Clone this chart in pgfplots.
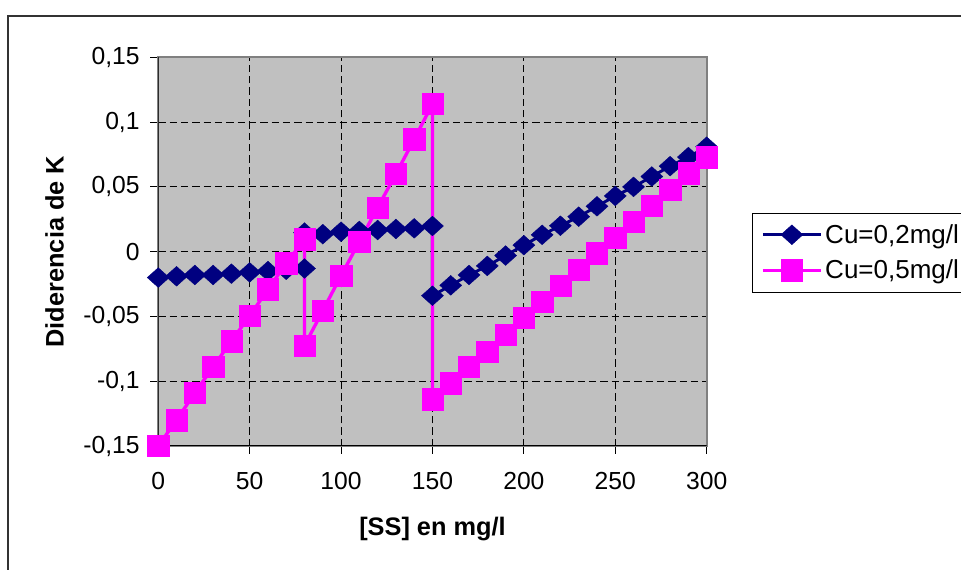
\documentclass[border=0pt]{standalone}
\usepackage{fontspec}
\setmainfont{Liberation Sans}
\usepackage{pgfplots}
\pgfplotsset{compat=1.18}
\definecolor{bg}{RGB}{192,192,192}
\definecolor{navyc}{RGB}{0,0,128}
\definecolor{magc}{RGB}{255,0,255}
\begin{document}
\begin{tikzpicture}
\useasboundingbox (0pt,0pt) rectangle (720.75pt,427.5pt);
\draw[line width=1.5pt, black!80] (6.2pt,-5pt) -- (6.2pt,415.5pt) -- (730pt,415.5pt);
\begin{axis}[
  at={(118.7pt,93pt)}, anchor=south west,
  scale only axis, width=411.3pt, height=291.5pt,
  xmin=0, xmax=300, ymin=-0.15, ymax=0.15,
  xtick={0,50,...,300},
  xticklabels={0,50,100,150,200,250,300},
  ytick={-0.15,-0.1,-0.05,0,0.05,0.1,0.15},
  yticklabels={{-0,15},{-0,1},{-0,05},{0},{0,05},{0,1},{0,15}},
  tick align=outside, major tick length=6pt,
  tick pos=left,
  tick style={black, line width=0.75pt},
  grid=major,
  major grid style={black, line width=0.75pt, dash pattern=on 5.5pt off 3pt},
  axis background/.style={fill=bg},
  axis line style={gray, line width=1.3pt},
  tick label style={font=\fontsize{18.5}{20}\selectfont},
  xticklabel style={yshift=-10pt},
  yticklabel style={xshift=-4.5pt},
  label style={font=\bfseries\fontsize{19}{22}\selectfont},
  xlabel={[SS] en mg/l},
  ylabel={Diderencia de K},
  xlabel style={at={(axis description cs:0.5,-0.2135)}, anchor=center},
  ylabel style={at={(axis description cs:-0.1889,0.5)}, anchor=center},
  legend style={at={(axis description cs:1.0832,0.4978)}, anchor=west, draw=black, fill=white,
    font=\fontsize{19.5}{22}\selectfont, row sep=7pt, inner xsep=6.5pt, inner ysep=6.5pt},
  legend cell align=left,
  legend image code/.code={\draw[mark repeat=2, mark phase=2, #1] plot coordinates {(0pt,0pt) (21.75pt,0pt) (43.5pt,0pt)};},
]
\draw[black, line width=1.3pt] (rel axis cs:0,1) -- (rel axis cs:0,0) -- (rel axis cs:1,0);
\addplot[color=navyc, line width=2.2pt, mark=diamond*, mark size=7.4pt, mark options={solid, xscale=1.486, line width=0.3pt}]
coordinates {
(0,-0.020) (10,-0.019) (20,-0.018) (30,-0.018) (40,-0.017) (50,-0.016) (60,-0.015) (70,-0.014) (80,-0.013)
(80,0.0147) (90,0.0135) (100,0.0154) (110,0.016) (120,0.0167) (130,0.0175) (140,0.018) (150,0.0198)
(150,-0.034) (160,-0.026) (170,-0.018) (180,-0.011) (190,-0.003) (200,0.005) (210,0.013) (220,0.020)
(230,0.027) (240,0.035) (250,0.043) (260,0.050) (270,0.058) (280,0.066) (290,0.073) (300,0.081)
};
\addlegendentry{Cu=0,2mg/l}
\addplot[color=magc, line width=2.5pt, mark=square*, mark size=8pt, mark options={solid, line width=0.3pt}]
coordinates {
(0,-0.15) (10,-0.13) (20,-0.109) (30,-0.089) (40,-0.069) (50,-0.0496) (60,-0.029) (70,-0.009) (80,0.0096)
(80,-0.0725) (90,-0.0455) (100,-0.0185) (110,0.0077) (120,0.034) (130,0.060) (140,0.0867) (150,0.114)
(150,-0.114) (160,-0.1016) (170,-0.089) (180,-0.077) (190,-0.064) (200,-0.051) (210,-0.0386) (220,-0.0265)
(230,-0.014) (240,-0.0013) (250,0.011) (260,0.023) (270,0.0355) (280,0.048) (290,0.0605) (300,0.073)
};
\addlegendentry{Cu=0,5mg/l}
\end{axis}
\end{tikzpicture}
\end{document}
